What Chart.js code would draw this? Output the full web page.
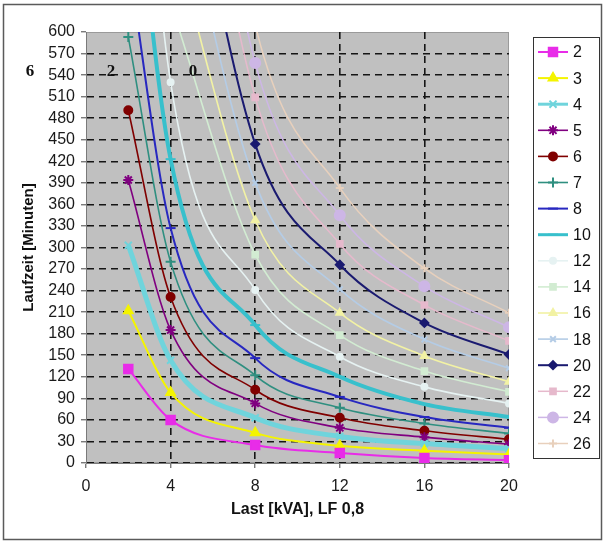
<!DOCTYPE html>
<html>
<head>
<meta charset="utf-8">
<script src="https://cdn.jsdelivr.net/npm/chart.js@4.4.1/dist/chart.umd.min.js"></script>
<style>
  html, body { margin: 0; padding: 0; background: #fff; }
  #wrap { width: 606px; height: 543px; }
</style>
</head>
<body>
<div id="wrap"><canvas id="runtimeChart" width="606" height="543"></canvas></div>
<script>
'use strict';

// Load points (kVA, LF 0,8)
const loads = [2, 4, 8, 12, 16, 20];

// Runtime in minutes per battery set (values above 600 run off the top)
const rt2  = [131, 60, 25, 14, 7, 4];
const rt3  = [212, 98, 42, 24, 17, 12];
const rt4  = [303, 143, 63, 37, 27, 20];
const rt5  = [394, 185, 83, 49, 36, 26];
const rt6  = [491, 231, 102, 63, 45, 33];
const rt7  = [593, 280, 122, 77, 55, 41];
const rt8  = [700, 327, 146, 92, 64, 49];
const rt10 = [900, 423, 192, 120, 82, 64];
const rt12 = [1130, 530, 241, 148, 106, 83];
const rt14 = [null, 640, 290, 178, 128, 99];
const rt16 = [null, 745, 338, 209, 149, 113];
const rt18 = [null, 860, 390, 242, 172, 132];
const rt20 = [null, 980, 444, 276, 195, 151];
const rt22 = [null, 1120, 509, 305, 220, 170];
const rt24 = [null, 1225, 557, 345, 246, 189];
const rt26 = [null, 1340, 610, 383, 271, 209];

const seriesLabels = ['2', '3', '4', '5', '6', '7', '8', '10', '12', '14', '16', '18', '20', '22', '24', '26'];
const seriesValues = [rt2, rt3, rt4, rt5, rt6, rt7, rt8, rt10, rt12, rt14, rt16, rt18, rt20, rt22, rt24, rt26];

const xTicks = [0, 4, 8, 12, 16, 20];

// styles
const seriesColors = ['#e82ce8', '#f4f400', '#6fd4dc', '#800080', '#800000', '#2f8f80', '#2828c0', '#38c0cc',
  '#e6f2f2', '#d2ecd2', '#f2f2a4', '#b4cce6', '#1a1a70', '#e6b9cc', '#cdb6e6', '#e8d0bc'];
const seriesWidths = [2, 2, 5, 1.6, 1.6, 1.6, 2, 4, 1.6, 1.6, 1.6, 1.6, 2, 1.5, 1.5, 1.5];
const seriesMarkers = ['rect', 'triangle', 'crossRot', 'star', 'circle', 'cross', 'line', 'line',
  'circle', 'rect', 'triangle', 'crossRot', 'rectRot', 'rect', 'circle', 'cross'];
const seriesRadius = [6, 5, 5, 5, 4, 5, 5, 5, 3, 4, 4, 4, 4, 4, 5, 4];

const datasets = seriesLabels.map(function (lbl, i) {
  const pts = [];
  loads.forEach(function (x, j) {
    if (seriesValues[i][j] !== null) pts.push({ x: x, y: seriesValues[i][j] });
  });
  return {
    label: lbl,
    data: pts,
    borderColor: seriesColors[i],
    backgroundColor: seriesColors[i],
    pointBackgroundColor: seriesColors[i],
    pointBorderColor: seriesColors[i],
    borderWidth: seriesWidths[i],
    pointStyle: seriesMarkers[i],
    pointRadius: seriesRadius[i],
    pointBorderWidth: 2,
    cubicInterpolationMode: 'monotone',
    fill: false
  };
});

// gray plot area, frame and plot border
const plotBackground = {
  id: 'plotBackground',
  beforeDraw: function (chart) {
    const ctx = chart.ctx, a = chart.chartArea;
    ctx.save();
    ctx.fillStyle = '#ffffff';
    ctx.fillRect(0, 0, chart.width, chart.height);
    ctx.strokeStyle = '#5a5a5a';
    ctx.lineWidth = 1.5;
    ctx.strokeRect(3.5, 4.5, 598, 535);
    ctx.fillStyle = '#c0c0c0';
    ctx.fillRect(a.left, a.top, a.right - a.left, a.bottom - a.top);
    ctx.strokeStyle = '#9a9a9a';
    ctx.lineWidth = 1;
    ctx.strokeRect(a.left + 0.5, a.top + 0.5, a.right - a.left - 1, a.bottom - a.top - 1);
    ctx.restore();
  }
};

// legend drawn at the right like the original
const sideLegend = {
  id: 'sideLegend',
  afterDraw: function (chart) {
    const ctx = chart.ctx;
    ctx.save();
    ctx.strokeStyle = '#333';
    ctx.lineWidth = 1;
    ctx.strokeRect(533.5, 37.5, 66, 421);
    ctx.font = '16px "Liberation Sans", Arial, sans-serif';
    ctx.textBaseline = 'middle';
    ctx.textAlign = 'left';
    chart.data.datasets.forEach(function (ds, i) {
      const y = 52 + i * 26.1;
      ctx.strokeStyle = ds.borderColor;
      ctx.fillStyle = ds.borderColor;
      ctx.lineWidth = Math.min(ds.borderWidth, 3);
      ctx.beginPath();
      ctx.moveTo(538, y);
      ctx.lineTo(568, y);
      ctx.stroke();
      ctx.lineWidth = 2;
      if (Chart.helpers && Chart.helpers.drawPoint) {
        Chart.helpers.drawPoint(ctx, { pointStyle: ds.pointStyle, radius: ds.pointRadius, borderWidth: 2, rotation: 0 }, 553, y);
      }
      ctx.fillStyle = '#111';
      ctx.fillText(ds.label, 573, y + 1);
    });
    ctx.restore();
  }
};

// stray digits that sit on the original picture
const strayText = {
  id: 'strayText',
  afterDraw: function (chart) {
    const ctx = chart.ctx;
    ctx.save();
    ctx.font = 'bold 17px "Liberation Serif", "Times New Roman", serif';
    ctx.fillStyle = '#111';
    ctx.textAlign = 'center';
    ctx.textBaseline = 'middle';
    ctx.fillText('6', 30, 72);
    ctx.fillText('2', 111, 72);
    ctx.fillText('0', 193, 72);
    ctx.restore();
  }
};

const gridDash = [7, 5];

var runtimeChart = new Chart(document.getElementById('runtimeChart'), {
  type: 'line',
  data: { datasets: datasets },
  plugins: [plotBackground, sideLegend, strayText],
  options: {
    responsive: false,
    devicePixelRatio: 1,
    animation: false,
    layout: { padding: { left: 20, right: 97, top: 32, bottom: 24 } },
    plugins: {
      legend: { display: false },
      tooltip: { enabled: false }
    },
    scales: {
      x: {
        type: 'linear',
        min: 0,
        max: 20,
        afterBuildTicks: function (scale) {
          scale.ticks = xTicks.map(function (v) { return { value: v }; });
        },
        afterFit: function (scale) { scale.height = 56; },
        ticks: {
          padding: 9,
          autoSkip: false,
          color: '#1a1a1a',
          font: { family: '"Liberation Sans", Arial, sans-serif', size: 16 }
        },
        grid: {
          color: function (c) {
            return (c.tick && (c.tick.value === 0 || c.tick.value === 20)) ? 'rgba(0,0,0,0)' : '#151515';
          },
          lineWidth: 1.6,
          tickLength: 5,
          tickColor: '#444',
          tickWidth: 1
        },
        border: { color: '#7a7a7a', width: 1, dash: gridDash },
        title: {
          display: true,
          text: 'Last [kVA], LF 0,8',
          color: '#111',
          padding: 0,
          font: { family: '"Liberation Sans", Arial, sans-serif', size: 16, weight: 'bold' }
        }
      },
      y: {
        min: 0,
        max: 600,
        afterFit: function (scale) { scale.width = 66; },
        ticks: {
          stepSize: 30,
          autoSkip: false,
          padding: 6,
          color: '#1a1a1a',
          font: { family: '"Liberation Sans", Arial, sans-serif', size: 16 }
        },
        grid: {
          color: function (c) {
            return (c.tick && c.tick.value === 600) ? 'rgba(0,0,0,0)' : '#151515';
          },
          lineWidth: 1.6,
          tickLength: 5,
          tickColor: '#444',
          tickWidth: 1
        },
        border: { color: '#7a7a7a', width: 1, dash: gridDash },
        title: {
          display: true,
          text: 'Laufzeit [Minuten]',
          color: '#111',
          padding: 0,
          font: { family: '"Liberation Sans", Arial, sans-serif', size: 15, weight: 'bold' }
        }
      }
    }
  }
});
</script>
</body>
</html>
